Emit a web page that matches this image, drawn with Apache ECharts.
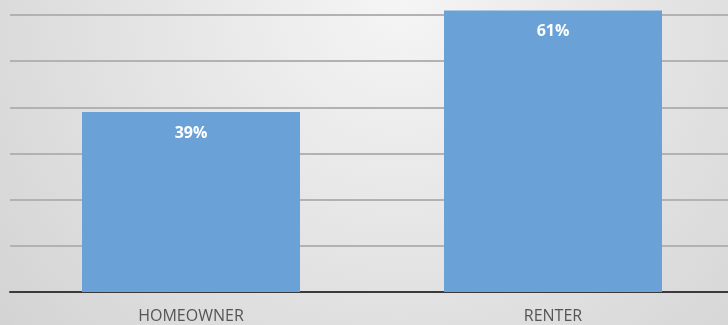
<!DOCTYPE html>
<html>
<head>
<meta charset="utf-8">
<script src="https://cdn.jsdelivr.net/npm/echarts@6/dist/echarts.min.js"></script>
<style>
  html, body { margin: 0; padding: 0; }
  #chart { width: 728px; height: 325px; }
</style>
</head>
<body>
<div id="chart"></div>
<script>
// 数据
const categories = ["HOMEOWNER", "RENTER"];
const shares = [39, 61]; // 百分比

const chart = echarts.init(document.getElementById("chart"));
const option = {
  backgroundColor: new echarts.graphic.RadialGradient(0.55, 0.0, 1.6, [
    { offset: 0, color: "#f5f5f5" },
    { offset: 1, color: "#d3d3d3" },
  ]),
  grid: {
    left: 10,
    top: 15,
    width: 724, //右侧略超出画布
    height: 277,
    containLabel: false,
    outerBoundsMode: "none",
  },
  xAxis: {
    type: "category",
    data: categories,
    axisLine: { lineStyle: { color: "#3a3a3a", width: 2 } },
    axisTick: { show: false },
    axisLabel: {
      color: "#555555",
      fontSize: 16,
      fontFamily: "Open Sans",
      margin: 16,
    },
  },
  yAxis: {
    type: "value",
    min: 0,
    max: 60, //最高网格线 = 60%，RENTER柱子略超出
    interval: 10,
    axisLine: { show: false },
    axisTick: { show: false },
    axisLabel: { show: false },
    splitLine: { lineStyle: { color: "#b2b2b2", width: 2 } },
  },
  series: [
    {
      type: "bar",
      data: shares,
      barWidth: 218,
      clip: false,
      itemStyle: { color: "#6aa2d7" },
      label: {
        show: true,
        position: "insideTop",
        distance: 13,
        formatter: "{c}%",
        color: "#ffffff",
        fontWeight: "bold",
        fontSize: 16,
        fontFamily: "Open Sans",
      },
    },
  ],
};
chart.setOption(option);
</script>
</body>
</html>
